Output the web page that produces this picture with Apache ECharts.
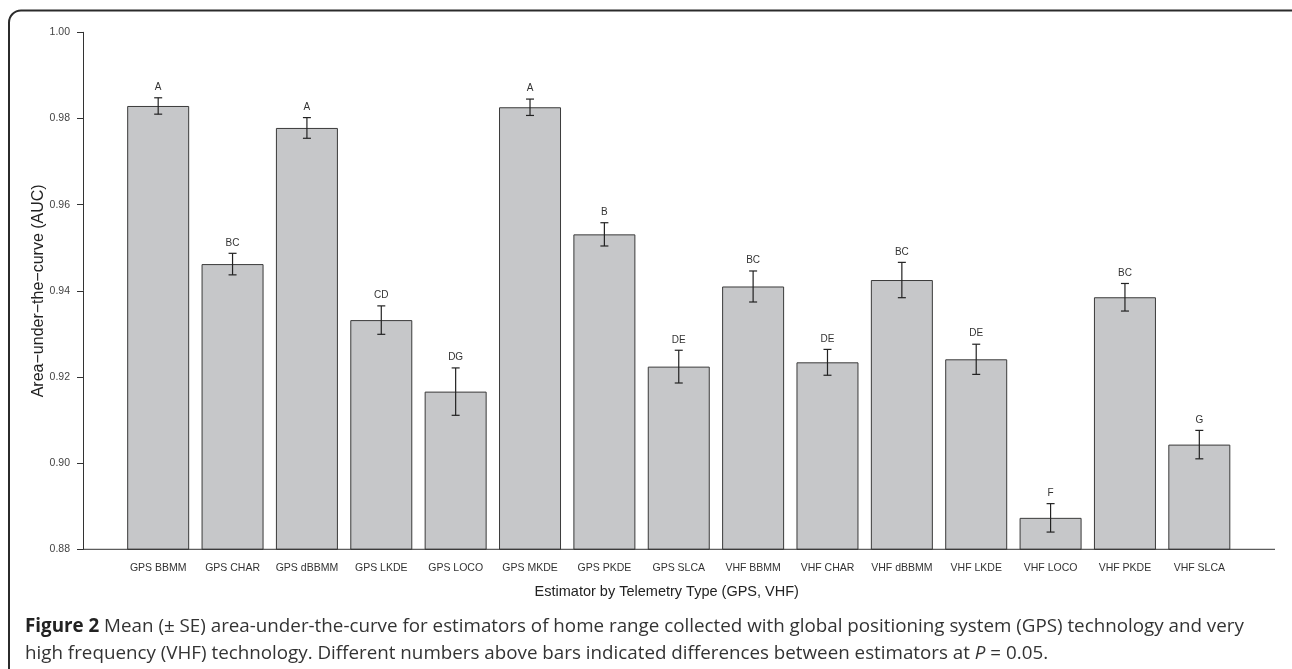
<!DOCTYPE html>
<html>
<head>
<meta charset="utf-8">
<script src="https://cdn.jsdelivr.net/npm/echarts@6/dist/echarts.min.js"></script>
<style>
html,body{margin:0;padding:0;background:#fff;}
#chart{width:1292px;height:669px;}
</style>
</head>
<body>
<div id="chart"></div>
<script>
const categories = ['GPS BBMM','GPS CHAR','GPS dBBMM','GPS LKDE','GPS LOCO','GPS MKDE','GPS PKDE','GPS SLCA','VHF BBMM','VHF CHAR','VHF dBBMM','VHF LKDE','VHF LOCO','VHF PKDE','VHF SLCA'];
const meanAUC = [0.9829,0.9462,0.9778,0.9332,0.9166,0.9826,0.9531,0.9224,0.9410,0.9234,0.9425,0.9241,0.8873,0.9385,0.9043];
const seAUC = [0.0019,0.0025,0.0024,0.0033,0.0055,0.0019,0.0027,0.0038,0.0036,0.0030,0.0041,0.0035,0.0033,0.0032,0.0033];
const groupLetters = ['A','BC','A','CD','DG','A','B','DE','BC','DE','BC','DE','F','BC','G'];
const yTicks = [0.88,0.90,0.92,0.94,0.96,0.98,1.00];

const FONT = '"Liberation Sans", Arial, Helvetica, sans-serif';
const CAPFONT = '"Open Sans", "Noto Sans", sans-serif';

const chart = echarts.init(document.getElementById('chart'), null, {renderer:'canvas'});

const errData = categories.map((c,i)=>[i, meanAUC[i]-seAUC[i], meanAUC[i]+seAUC[i], groupLetters[i]]);

const option = {
  backgroundColor:'#ffffff',
  animation:false,
  grid:{left:121, right:55.5, top:32.3, bottom:119.7, containLabel:false},
  xAxis:{
    type:'category',
    data:categories,
    axisLine:{show:false},
    axisTick:{show:false},
    axisLabel:{fontFamily:FONT, fontSize:10.5, color:'#333', margin:13, interval:0},
    name:'Estimator by Telemetry Type (GPS, VHF)',
    nameLocation:'middle',
    nameGap:35,
    nameMoveOverlap:false,
    nameTextStyle:{fontFamily:FONT, fontSize:14.5, color:'#222', padding:[0,24,0,0]}
  },
  yAxis:{
    type:'value',
    min:0.88, max:1.00, interval:0.02,
    offset:38,
    axisLine:{show:true, lineStyle:{color:'#333', width:1}},
    axisTick:{show:true, length:6, lineStyle:{color:'#333', width:1}},
    splitLine:{show:false},
    axisLabel:{fontFamily:FONT, fontSize:10.5, color:'#444', margin:13,
      formatter:v=>{const t=yTicks.find(x=>Math.abs(x-v)<1e-9); return (t!==undefined?t:v).toFixed(2);}},
    name:'Area\u2212under\u2212the\u2212curve (AUC)',
    nameLocation:'middle',
    nameGap:36,
    nameMoveOverlap:false,
    nameTextStyle:{fontFamily:FONT, fontSize:16, color:'#222'}
  },
  series:[
    {
      type:'bar',
      data:meanAUC,
      barWidth:62,
      itemStyle:{color:'#c6c7c9', borderColor:'#3a3a3a', borderWidth:1},
      silent:true
    },
    {
      type:'custom',
      data:errData,
      silent:true,
      z:5,
      renderItem:function(params, api){
        const x = api.coord([api.value(0), api.value(1)])[0];
        const yLo = api.coord([api.value(0), api.value(1)])[1];
        const yHi = api.coord([api.value(0), api.value(2)])[1];
        const cap = 4;
        const st = {stroke:'#222', lineWidth:1.2};
        return {type:'group', children:[
          {type:'line', shape:{x1:x,y1:yHi,x2:x,y2:yLo}, style:st},
          {type:'line', shape:{x1:x-cap,y1:yHi,x2:x+cap,y2:yHi}, style:st},
          {type:'line', shape:{x1:x-cap,y1:yLo,x2:x+cap,y2:yLo}, style:st},
          {type:'text', style:{text:groupLetters[params.dataIndex], x:x, y:yHi-10.5, align:'center', verticalAlign:'middle', font:'10px '+FONT, fill:'#333'}}
        ]};
      }
    }
  ]
};
chart.setOption(option);

const yBase = chart.convertToPixel({yAxisIndex:0}, 0.88);
chart.setOption({
  graphic:[
    {type:'rect', silent:true, shape:{x:9, y:10.5, width:1310, height:700, r:12},
      style:{fill:'none', stroke:'#2b2b2b', lineWidth:2}, z:0},
    {type:'line', silent:true, shape:{x1:83, y1:yBase, x2:1275, y2:yBase},
      style:{stroke:'#333', lineWidth:1}, z:10},
    {type:'text', silent:true, x:25, y:626.7,
      style:{
        text:'{b|Figure 2} Mean (\u00b1 SE) area-under-the-curve for estimators of home range collected with global positioning system (GPS) technology and very',
        font:'18.8px '+CAPFONT, fill:'#333', verticalAlign:'middle',
        rich:{b:{fontFamily:CAPFONT, fontSize:18.8, fontWeight:'bold', fill:'#222'}}
      }},
    {type:'text', silent:true, x:25, y:653.3,
      style:{
        text:'high frequency (VHF) technology. Different numbers above bars indicated differences between estimators at {i|P} = 0.05.',
        font:'18.8px '+CAPFONT, fill:'#333', verticalAlign:'middle',
        rich:{i:{fontFamily:CAPFONT, fontSize:18.8, fontStyle:'italic', fill:'#333'}}
      }}
  ]
});
</script>
</body>
</html>
